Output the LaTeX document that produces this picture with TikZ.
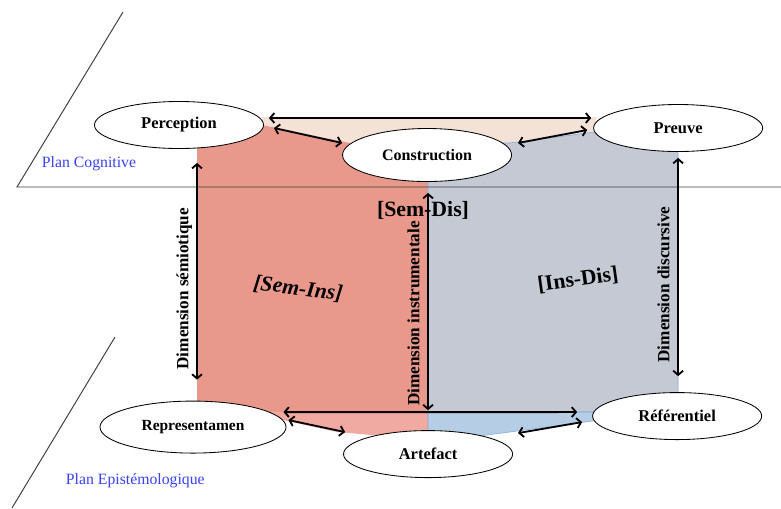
\documentclass[tikz,border=0pt]{standalone}
\usepackage{fontspec}
\setmainfont{Liberation Serif}
\usepackage{xcolor}
\usepackage{tikz}
\usetikzlibrary{shapes.geometric, arrows.meta}
\usetikzlibrary{calc}
\definecolor{seminsfill}{RGB}{232,153,139}
\definecolor{seminslow}{RGB}{240,170,162}
\definecolor{insdisfill}{RGB}{196,201,211}
\definecolor{insdislow}{RGB}{182,205,230}
\definecolor{semdisfill}{RGB}{243,226,213}
\definecolor{zoneedge}{RGB}{130,170,215}
\definecolor{planblue}{RGB}{55,65,245}
\tikzstyle{pole} = [ellipse, minimum width=4.225cm, minimum height=1.175cm, inner sep=0pt, text centered, draw=black, line width=0.6pt, fill=white, font=\fontsize{11.7}{13}\selectfont\bfseries]
\tikzstyle{arrow} = [line width=1.3pt, <->, >={Straight Barb[length=3pt,width=7pt]}]
\tikzstyle{dimlabel} = [rotate=90, anchor=south, inner sep=3pt, text depth=2.5pt, font=\fontsize{12.2}{14}\selectfont\bfseries]
\tikzstyle{zonelabel} = [font=\fontsize{15.5}{18}\selectfont\bfseries]
\tikzstyle{planlabel} = [anchor=west, text=planblue, font=\fontsize{11.2}{13}\selectfont]
\tikzstyle{planline} = [line width=0.7pt, draw=black!75]
\begin{document}
\begin{tikzpicture}[x=0.025cm, y=-0.025cm, node distance=2cm]
\useasboundingbox (0,0) rectangle (781,508);

% zones
\fill[semdisfill] (262,117) -- (596,117) -- (596,132) -- (510,143) -- (427,140) -- (350,143) -- (262,125) -- cycle;
\fill[seminsfill] (197,140) -- (262,125) -- (350,143) -- (428,143) -- (428,412) -- (285,414) -- (197,425) -- cycle;
\fill[seminslow] (270,412) -- (428,412) -- (428,440) -- (337,432) -- (283,420) -- (270,416) -- cycle;
\filldraw[fill=insdisfill, draw=zoneedge, line width=0.4pt] (428,143) -- (510,143) -- (595,132) -- (678,140) -- (678,400) -- (600,412) -- (428,412) -- cycle;
\filldraw[fill=insdislow, draw=zoneedge, line width=0.4pt] (428,412) -- (600,412) -- (600,420) -- (487,435) -- (428,440) -- cycle;

% plans
\draw[planline] (123,12) -- (17,187) -- (781,187);
\draw[planline] (115,337) -- (12,508);
\node[planlabel] (plancog) at (37,164) {Plan Cognitive};
\node[planlabel] (planepi) at (61,481) {Plan Epistémologique};

% poles
\node (perc) [pole] at (179,125) {Perception};
\node (constr) [pole, minimum height=1.325cm, right of=perc, xshift=4.2cm, yshift=-0.75cm] {\fontsize{11.4}{13}\selectfont Construction};
\node (preuve) [pole, right of=constr, xshift=4.275cm, yshift=0.675cm] {Preuve};
\node (repr) [pole, minimum width=4.65cm, minimum height=1.3cm, below of=perc, xshift=0.35cm, yshift=-5.55cm] {\fontsize{11}{13}\selectfont Representamen};
\node (artef) [pole, below of=constr, xshift=0.025cm, yshift=-5.475cm] {Artefact};
\node (refer) [pole, below of=preuve, xshift=-0.025cm, yshift=-5.2cm] {Référentiel};

% zone labels
\node[zonelabel] (semdis) at (423,210) {[Sem-Dis]};
\node[zonelabel, rotate=-7] (semins) at (298,289) {\itshape [Sem-Ins]};
\node[zonelabel, rotate=8] (insdis) at (578,280) {[Ins-Dis]};

\draw [arrow] ([shift={(5,-7)}]perc.east) -- ([shift={(-2,-10)}]preuve.west);
\draw [arrow] ([shift={(10,3)}]perc.east) -- ([shift={(0,-12)}]constr.west);
\draw [arrow] ([shift={(6,-12)}]constr.east) -- ([shift={(-6,2)}]preuve.west);

\draw [arrow] ([shift={(-3,-15)}]repr.east) -- ([shift={(-15,-4)}]refer.west);
\draw [arrow] ([shift={(2,-7)}]repr.east) -- ([shift={(2,-22)}]artef.west);
\draw [arrow] ([shift={(5,-21)}]artef.east) -- ([shift={(-10,6)}]refer.west);

\draw [arrow] ([shift={(18,14)}]perc.south) -- node[dimlabel, pos=0.58] {Dimension sémiotique} ([shift={(4,-21)}]repr.north);
\draw [arrow] ([shift={(1,11)}]constr.south) -- node[dimlabel, pos=0.555] {Dimension instrumentale} ([shift={(0,-20)}]artef.north);
\draw [arrow] ([shift={(0,6)}]preuve.south) -- node[dimlabel, pos=0.58] {Dimension discursive} ([shift={(1,-16)}]refer.north);

\end{tikzpicture}
\end{document}
